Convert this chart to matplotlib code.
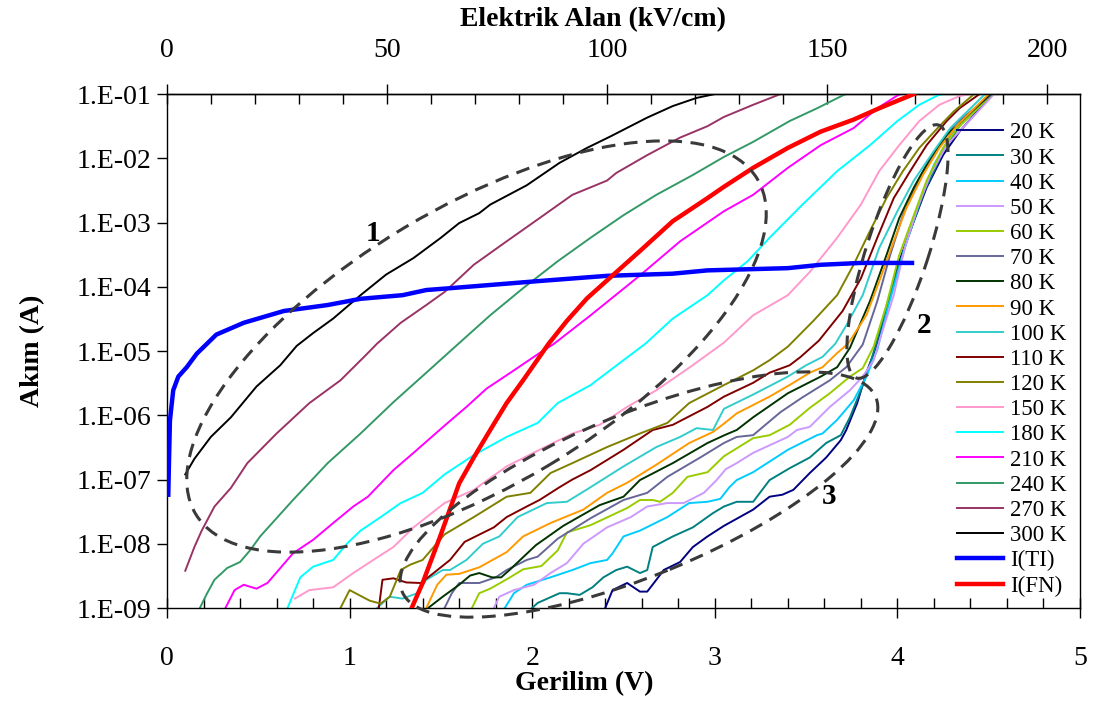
import math
import matplotlib
matplotlib.use("Agg")
import matplotlib.pyplot as plt
from matplotlib.patches import Ellipse
from matplotlib.transforms import Affine2D
from matplotlib.ticker import FixedLocator, FuncFormatter, NullLocator

plt.rcParams['font.family'] = ['Liberation Serif', 'DejaVu Serif']

# ---------------- measured I-V data (voltage in V, current in A) ----------------
v_20K = [2.40, 2.44, 2.52, 2.59, 2.63, 2.68, 2.72, 2.81, 2.88, 2.96, 3.05, 3.21, 3.30, 3.37, 3.43, 3.52, 3.61, 3.69, 3.72, 3.78, 3.83, 3.89, 3.94, 4.01, 4.09, 4.16, 4.25, 4.34, 4.52]
i_20K = [1.0e-9, 1.9e-9, 2.45e-9, 1.8e-9, 1.8e-9, 2.75e-9, 3.9e-9, 5.2e-9, 8.9e-9, 1.3e-8, 1.9e-8, 3.4e-8, 5.4e-8, 5.8e-8, 6.9e-8, 1.26e-7, 2.2e-7, 4.1e-7, 5.9e-7, 1.55e-6, 4.6e-6, 1.26e-5, 4.7e-5, 2.5e-4, 1.05e-3, 3.5e-3, 1.12e-2, 2.6e-2, 1.0e-1]

v_30K = [2.00, 2.03, 2.15, 2.19, 2.26, 2.33, 2.39, 2.46, 2.52, 2.59, 2.63, 2.66, 2.77, 2.88, 2.99, 3.05, 3.12, 3.21, 3.30, 3.41, 3.52, 3.61, 3.69, 3.74, 3.80, 3.84, 3.89, 3.95, 4.05, 4.15, 4.25, 4.35, 4.52]
i_30K = [1.0e-9, 1.2e-9, 1.7e-9, 1.7e-9, 1.6e-9, 2.1e-9, 3.0e-9, 3.9e-9, 4.4e-9, 3.5e-9, 3.9e-9, 8.9e-9, 1.3e-8, 1.8e-8, 3.0e-8, 3.8e-8, 4.5e-8, 4.5e-8, 9.8e-8, 1.5e-7, 2.2e-7, 3.7e-7, 4.9e-7, 9.3e-7, 2.45e-6, 5.0e-6, 1.5e-5, 6.3e-5, 5.0e-4, 3.2e-3, 1.26e-2, 3.5e-2, 1.0e-1]

v_40K = [1.85, 1.90, 1.97, 2.10, 2.22, 2.32, 2.41, 2.44, 2.50, 2.59, 2.74, 2.86, 2.96, 3.03, 3.08, 3.12, 3.21, 3.40, 3.56, 3.59, 3.67, 3.76, 3.83, 3.89, 3.95, 4.05, 4.13, 4.20, 4.30, 4.52]
i_40K = [1.0e-9, 1.7e-9, 2.3e-9, 3.0e-9, 3.9e-9, 5.0e-9, 5.6e-9, 7.1e-9, 1.3e-8, 1.6e-8, 2.6e-8, 4.3e-8, 4.5e-8, 5.0e-8, 7.6e-8, 9.8e-8, 1.3e-7, 2.9e-7, 4.9e-7, 5.2e-7, 8.5e-7, 1.7e-6, 4.0e-6, 1.05e-5, 5.0e-5, 5.0e-4, 2.5e-3, 7.9e-3, 2.5e-2, 1.0e-1]

v_50K = [1.79, 1.82, 1.90, 2.01, 2.10, 2.19, 2.28, 2.41, 2.54, 2.63, 2.74, 2.83, 2.94, 3.01, 3.06, 3.12, 3.21, 3.40, 3.45, 3.52, 3.63, 3.74, 3.81, 3.87, 3.90, 3.98, 4.04, 4.11, 4.18, 4.27, 4.53]
i_50K = [1.0e-9, 1.5e-9, 1.9e-9, 2.3e-9, 3.5e-9, 5.0e-9, 1.0e-8, 1.8e-8, 2.6e-8, 3.8e-8, 4.3e-8, 4.3e-8, 6.2e-8, 9.8e-8, 1.45e-7, 1.8e-7, 2.6e-7, 4.6e-7, 5.9e-7, 6.6e-7, 1.35e-6, 2.45e-6, 4.0e-6, 7.2e-6, 1.4e-5, 7.4e-5, 4.0e-4, 1.7e-3, 5.5e-3, 1.6e-2, 1.0e-1]

v_60K = [1.67, 1.71, 1.77, 1.87, 1.95, 2.05, 2.14, 2.19, 2.32, 2.52, 2.59, 2.66, 2.70, 2.77, 2.85, 2.96, 3.05, 3.21, 3.30, 3.41, 3.52, 3.63, 3.74, 3.81, 3.87, 3.94, 4.01, 4.09, 4.16, 4.25, 4.33, 4.52]
i_60K = [1.0e-9, 1.7e-9, 2.0e-9, 2.9e-9, 4.0e-9, 4.5e-9, 7.9e-9, 1.5e-8, 1.95e-8, 3.6e-8, 4.8e-8, 4.8e-8, 4.5e-8, 6.2e-8, 1.1e-7, 1.3e-7, 2.3e-7, 4.4e-7, 4.9e-7, 7.1e-7, 1.3e-6, 2.2e-6, 4.0e-6, 5.4e-6, 1.17e-5, 5.2e-5, 3.1e-4, 1.3e-3, 4.5e-3, 1.45e-2, 2.95e-2, 1.0e-1]

v_70K = [1.52, 1.56, 1.60, 1.71, 1.80, 1.86, 1.97, 2.03, 2.14, 2.32, 2.50, 2.63, 2.74, 2.92, 3.05, 3.12, 3.21, 3.36, 3.48, 3.63, 3.72, 3.81, 3.89, 3.96, 4.03, 4.12, 4.22, 4.31, 4.52]
i_70K = [1.0e-9, 1.7e-9, 2.45e-9, 2.45e-9, 3.0e-9, 3.9e-9, 5.6e-9, 6.3e-9, 1.2e-8, 2.5e-8, 4.8e-8, 6.2e-8, 1.1e-7, 2.2e-7, 3.7e-7, 4.6e-7, 4.9e-7, 1.12e-6, 1.9e-6, 3.5e-6, 5.6e-6, 1.26e-5, 6.0e-5, 3.1e-4, 1.3e-3, 4.9e-3, 1.45e-2, 3.3e-2, 1.0e-1]

v_80K = [1.43, 1.51, 1.60, 1.66, 1.71, 1.78, 1.83, 1.88, 2.02, 2.17, 2.37, 2.50, 2.59, 2.77, 2.96, 3.06, 3.12, 3.21, 3.40, 3.58, 3.67, 3.74, 3.85, 3.94, 4.01, 4.09, 4.18, 4.27, 4.51]
i_80K = [1.0e-9, 1.5e-9, 2.3e-9, 3.2e-9, 3.5e-9, 3.0e-9, 3.0e-9, 4.0e-9, 9.5e-9, 1.9e-8, 4.0e-8, 5.4e-8, 9.8e-8, 1.8e-7, 3.7e-7, 5.0e-7, 5.9e-7, 9.3e-7, 2.2e-6, 4.0e-6, 5.6e-6, 1.12e-5, 6.0e-5, 3.1e-4, 1.17e-3, 3.5e-3, 1.0e-2, 2.3e-2, 1.0e-1]

v_90K = [1.42, 1.48, 1.53, 1.60, 1.71, 1.86, 1.95, 2.10, 2.28, 2.41, 2.52, 2.68, 2.86, 2.99, 3.05, 3.12, 3.30, 3.43, 3.52, 3.59, 3.67, 3.73, 3.83, 3.90, 3.98, 4.05, 4.14, 4.23, 4.33, 4.50]
i_90K = [1.0e-9, 2.3e-9, 3.3e-9, 3.4e-9, 4.3e-9, 7.4e-9, 1.3e-8, 2.1e-8, 3.4e-8, 6.2e-8, 8.9e-8, 1.7e-7, 3.7e-7, 5.5e-7, 7.4e-7, 1.07e-6, 1.95e-6, 3.2e-6, 4.6e-6, 5.6e-6, 9.3e-6, 1.3e-5, 3.6e-5, 1.2e-4, 5.1e-4, 1.7e-3, 5.5e-3, 1.45e-2, 3.3e-2, 1.0e-1]

v_100K = [1.15, 1.22, 1.29, 1.37, 1.42, 1.51, 1.55, 1.64, 1.73, 1.82, 1.92, 2.08, 2.19, 2.32, 2.50, 2.68, 2.81, 2.90, 2.99, 3.05, 3.21, 3.40, 3.50, 3.59, 3.66, 3.72, 3.81, 3.90, 4.00, 4.09, 4.20, 4.29, 4.48]
i_100K = [1.0e-9, 1.5e-9, 1.4e-9, 1.7e-9, 2.75e-9, 3.9e-9, 3.9e-9, 5.6e-9, 1.0e-8, 1.3e-8, 2.6e-8, 4.3e-8, 4.5e-8, 7.6e-8, 1.6e-7, 3.2e-7, 4.6e-7, 6.3e-7, 5.9e-7, 1.26e-6, 2.1e-6, 4.0e-6, 6.0e-6, 8.1e-6, 1.3e-5, 2.5e-5, 7.4e-5, 4.0e-4, 1.5e-3, 4.5e-3, 1.3e-2, 2.95e-2, 1.0e-1]

v_110K = [1.16, 1.18, 1.24, 1.31, 1.39, 1.46, 1.55, 1.63, 1.79, 1.86, 1.97, 2.04, 2.15, 2.22, 2.32, 2.50, 2.66, 2.77, 2.96, 3.05, 3.21, 3.30, 3.41, 3.47, 3.57, 3.70, 3.80, 3.89, 3.98, 4.07, 4.16, 4.27, 4.34, 4.45]
i_110K = [1.0e-9, 2.75e-9, 2.9e-9, 2.5e-9, 2.45e-9, 3.5e-9, 5.6e-9, 1.07e-8, 1.8e-8, 2.6e-8, 3.8e-8, 4.8e-8, 7.6e-8, 1.0e-7, 1.4e-7, 2.9e-7, 5.9e-7, 7.1e-7, 1.35e-6, 1.95e-6, 3.2e-6, 4.6e-6, 6.0e-6, 8.1e-6, 1.45e-5, 4.2e-5, 1.35e-4, 5.8e-4, 2.4e-3, 6.3e-3, 1.6e-2, 3.8e-2, 6.0e-2, 1.0e-1]

v_120K = [0.95, 1.00, 1.11, 1.17, 1.22, 1.28, 1.33, 1.40, 1.52, 1.68, 1.86, 1.99, 2.10, 2.22, 2.41, 2.59, 2.74, 2.86, 3.05, 3.21, 3.30, 3.40, 3.54, 3.67, 3.76, 3.85, 3.94, 4.03, 4.12, 4.22, 4.31, 4.42]
i_120K = [1.0e-9, 1.9e-9, 1.3e-9, 1.17e-9, 1.5e-9, 3.9e-9, 4.7e-9, 5.6e-9, 1.4e-8, 2.6e-8, 5.4e-8, 6.2e-8, 1.26e-7, 1.8e-7, 3.2e-7, 5.2e-7, 7.6e-7, 1.55e-6, 2.95e-6, 5.0e-6, 7.2e-6, 1.17e-5, 2.95e-5, 7.4e-5, 2.2e-4, 7.4e-4, 2.4e-3, 6.3e-3, 1.45e-2, 2.95e-2, 5.4e-2, 1.0e-1]

v_150K = [0.70, 0.78, 0.91, 1.02, 1.13, 1.24, 1.35, 1.52, 1.68, 1.86, 2.04, 2.22, 2.37, 2.52, 2.68, 2.86, 3.05, 3.21, 3.40, 3.52, 3.67, 3.80, 3.90, 4.01, 4.12, 4.23, 4.34, 4.40]
i_150K = [1.4e-9, 1.9e-9, 2.1e-9, 3.5e-9, 5.6e-9, 8.9e-9, 1.8e-8, 4.3e-8, 6.9e-8, 1.6e-7, 2.9e-7, 5.2e-7, 7.1e-7, 1.35e-6, 2.45e-6, 5.5e-6, 1.35e-5, 3.6e-5, 7.4e-5, 1.7e-4, 5.8e-4, 1.9e-3, 6.3e-3, 1.6e-2, 3.8e-2, 6.8e-2, 9.3e-2, 1.0e-1]

v_180K = [0.66, 0.73, 0.80, 0.91, 0.985, 1.06, 1.17, 1.28, 1.40, 1.52, 1.68, 1.86, 2.03, 2.14, 2.32, 2.50, 2.62, 2.77, 2.96, 3.05, 3.18, 3.30, 3.48, 3.67, 3.85, 4.00, 4.12, 4.22, 4.25]
i_180K = [1.0e-9, 3.0e-9, 4.4e-9, 5.6e-9, 1.0e-8, 1.6e-8, 2.6e-8, 4.3e-8, 6.2e-8, 1.2e-7, 2.4e-7, 4.6e-7, 7.6e-7, 1.55e-6, 2.95e-6, 7.2e-6, 1.3e-5, 3.2e-5, 7.4e-5, 1.26e-4, 2.5e-4, 5.8e-4, 1.9e-3, 6.3e-3, 1.6e-2, 3.8e-2, 6.8e-2, 9.5e-2, 1.0e-1]

v_210K = [0.32, 0.37, 0.42, 0.49, 0.55, 0.69, 0.80, 0.91, 1.02, 1.10, 1.24, 1.35, 1.52, 1.64, 1.75, 1.90, 2.04, 2.12, 2.32, 2.59, 2.81, 3.05, 3.21, 3.40, 3.58, 3.76, 3.89, 4.00, 4.02]
i_210K = [1.0e-9, 1.9e-9, 2.3e-9, 2.0e-9, 2.45e-9, 7.1e-9, 1.15e-8, 2.1e-8, 3.8e-8, 5.4e-8, 1.4e-7, 2.6e-7, 6.9e-7, 1.35e-6, 2.6e-6, 5.0e-6, 9.3e-6, 1.3e-5, 3.6e-5, 1.5e-4, 5.1e-4, 1.5e-3, 2.7e-3, 7.1e-3, 1.6e-2, 2.95e-2, 6.0e-2, 9.5e-2, 1.0e-1]

v_240K = [0.18, 0.22, 0.26, 0.33, 0.40, 0.455, 0.51, 0.69, 0.88, 1.06, 1.24, 1.42, 1.56, 1.77, 1.95, 2.14, 2.32, 2.50, 2.68, 2.88, 3.05, 3.21, 3.41, 3.56, 3.70, 3.72]
i_240K = [1.0e-9, 1.7e-9, 2.75e-9, 4.2e-9, 5.2e-9, 7.9e-9, 1.3e-8, 4.8e-8, 1.8e-7, 5.2e-7, 1.6e-6, 4.6e-6, 1.05e-5, 3.6e-5, 9.5e-5, 2.5e-4, 5.8e-4, 1.3e-3, 2.7e-3, 5.5e-3, 1.05e-2, 1.8e-2, 3.8e-2, 6.0e-2, 9.5e-2, 1.0e-1]

v_270K = [0.10, 0.15, 0.19, 0.26, 0.35, 0.44, 0.60, 0.78, 0.95, 1.09, 1.15, 1.28, 1.42, 1.52, 1.68, 1.86, 2.04, 2.22, 2.41, 2.46, 2.63, 2.81, 2.96, 3.05, 3.21, 3.34, 3.36]
i_270K = [3.8e-9, 8.9e-9, 1.6e-8, 3.8e-8, 7.4e-8, 1.8e-7, 5.2e-7, 1.55e-6, 3.5e-6, 8.7e-6, 1.3e-5, 2.75e-5, 5.2e-5, 8.3e-5, 2.2e-4, 5.1e-4, 1.17e-3, 2.7e-3, 4.5e-3, 5.9e-3, 1.12e-2, 2.1e-2, 3.16e-2, 4.4e-2, 6.8e-2, 9.5e-2, 1.0e-1]

v_300K = [0.10, 0.15, 0.24, 0.35, 0.49, 0.62, 0.71, 0.80, 0.91, 1.06, 1.20, 1.35, 1.50, 1.60, 1.71, 1.77, 1.97, 2.15, 2.30, 2.43, 2.63, 2.77, 2.90, 3.00]
i_300K = [1.2e-7, 2.1e-7, 4.6e-7, 9.3e-7, 2.8e-6, 6.0e-6, 1.2e-5, 1.9e-5, 3.2e-5, 7.4e-5, 1.55e-4, 2.8e-4, 5.8e-4, 9.8e-4, 1.4e-3, 1.9e-3, 3.8e-3, 8.5e-3, 1.45e-2, 2.2e-2, 4.3e-2, 6.5e-2, 8.7e-2, 1.0e-1]

# thermionic-emission and Fowler-Nordheim fits
v_TI = [0.007, 0.011, 0.016, 0.034, 0.062, 0.108, 0.163, 0.27, 0.42, 0.64, 0.88, 1.06, 1.29, 1.42, 1.55, 2.04, 2.41, 2.77, 2.96, 3.40, 3.58, 3.80, 4.08]
i_TI = [5.8e-8, 2.0e-7, 8.3e-7, 2.45e-6, 4.0e-6, 5.6e-6, 9.1e-6, 1.8e-5, 2.75e-5, 4.2e-5, 5.2e-5, 6.5e-5, 7.4e-5, 8.9e-5, 9.5e-5, 1.23e-4, 1.48e-4, 1.6e-4, 1.8e-4, 1.95e-4, 2.2e-4, 2.35e-4, 2.35e-4]

v_FN = [1.34, 1.40, 1.50, 1.60, 1.68, 1.77, 1.86, 1.95, 2.09, 2.19, 2.30, 2.44, 2.59, 2.77, 2.96, 3.05, 3.21, 3.40, 3.58, 3.76, 3.90, 4.09]
i_FN = [1.0e-9, 2.45e-9, 1.4e-8, 8.7e-8, 2.2e-7, 5.9e-7, 1.55e-6, 3.5e-6, 1.3e-5, 2.95e-5, 6.6e-5, 1.5e-4, 3.6e-4, 1.05e-3, 2.4e-3, 3.6e-3, 7.1e-3, 1.45e-2, 2.6e-2, 4.0e-2, 6.0e-2, 1.0e-1]

temperatures = ["20 K", "30 K", "40 K", "50 K", "60 K", "70 K", "80 K", "90 K", "100 K",
                "110 K", "120 K", "150 K", "180 K", "210 K", "240 K", "270 K", "300 K"]
temp_voltages = [v_20K, v_30K, v_40K, v_50K, v_60K, v_70K, v_80K, v_90K, v_100K,
                 v_110K, v_120K, v_150K, v_180K, v_210K, v_240K, v_270K, v_300K]
temp_currents = [i_20K, i_30K, i_40K, i_50K, i_60K, i_70K, i_80K, i_90K, i_100K,
                 i_110K, i_120K, i_150K, i_180K, i_210K, i_240K, i_270K, i_300K]
temp_colors = ["#000080", "#008080", "#00CCFF", "#CC99FF", "#99CC00", "#666699", "#003300",
               "#FF9900", "#33CCCC", "#800000", "#808000", "#FF99CC", "#00FFFF", "#FF00FF",
               "#339966", "#993366", "#000000"]

y_tick_exponents = [-9, -8, -7, -6, -5, -4, -3, -2, -1]
volt_ticks = [0, 1, 2, 3, 4, 5]
volt_minor_ticks = [0.2 * k for k in range(26)]
field_ticks = [0, 50, 100, 150, 200]
field_minor_ticks = [10 * k for k in range(21)]
field_per_volt = 41.5   # kV/cm per V across the film

# ---------------- figure ----------------
fig = plt.figure(figsize=(10.98, 7.06), dpi=100)
ax = fig.add_axes([0.1521, 0.1388, 0.8315, 0.7280])

for lab, vv, ii, col in zip(temperatures, temp_voltages, temp_currents, temp_colors):
    ax.plot(vv, ii, color=col, lw=1.4, label=lab, zorder=2)
ax.plot(v_TI, i_TI, color="#0000FF", lw=3.2, label="I(TI)", zorder=3)
ax.plot(v_FN, i_FN, color="#FF0000", lw=3.2, label="I(FN)", zorder=3)

ax.set_yscale("log")
ax.set_xlim(0, 5)
ax.set_ylim(1e-9, 1e-1)

# y axis: decades only, labels like 1.E-05
ax.yaxis.set_major_locator(FixedLocator([10.0 ** e for e in y_tick_exponents]))
ax.yaxis.set_minor_locator(NullLocator())
ax.yaxis.set_major_formatter(FuncFormatter(lambda v, p: "1.E-%02d" % round(-math.log10(v))))
ax.tick_params(axis="y", which="major", direction="out", length=7, width=1, labelsize=20, pad=4,
               right=False)

# bottom x axis
ax.xaxis.set_major_locator(FixedLocator(volt_ticks))
ax.xaxis.set_minor_locator(FixedLocator(volt_minor_ticks))
ax.tick_params(axis="x", which="major", direction="inout", length=14, width=1, labelsize=20, pad=20)
ax.tick_params(axis="x", which="minor", direction="in", length=7, width=1)

for sp in ax.spines.values():
    sp.set_linewidth(1.0)

# top axis: electric field
sec = ax.secondary_xaxis("top", functions=(lambda v: v * field_per_volt, lambda e: e / field_per_volt))
sec.xaxis.set_major_locator(FixedLocator(field_ticks))
sec.xaxis.set_minor_locator(FixedLocator(field_minor_ticks))
sec.tick_params(axis="x", which="major", direction="inout", length=14, width=1, labelsize=20, pad=15)
sec.tick_params(axis="x", which="minor", direction="in", length=7, width=1)
sec.spines["top"].set_linewidth(1.0)

# axis titles
ax.set_xlabel("Gerilim (V)", fontsize=20, fontweight="bold")
ax.xaxis.set_label_coords(0.457, -0.122)
ax.set_ylabel("Akım (A)", fontsize=20, fontweight="bold")
ax.yaxis.set_label_coords(-0.134, 0.50)
ax.text(0.4666, 1.1200, "Elektrik Alan (kV/cm)", transform=ax.transAxes, ha="center", va="bottom",
        fontsize=20, fontweight="bold")

# dashed regions drawn in axes-pixel units (913 x 514 px plot box)
box = Affine2D().scale(1 / 913.0, 1 / 514.0) + ax.transAxes
regions = [((309.5, 261.5), 327, 139, 30.8),
           ((730.5, 356.5), 133, 31, 72.0),
           ((472.0, 113.5), 256, 81, 22.3)]
for (c, a, b, ang) in regions:
    e = Ellipse(c, 2 * a, 2 * b, angle=ang, transform=box, fill=False, edgecolor="#3a3a3a",
                lw=2.2, linestyle=(0, (4.5, 2.8)), clip_on=False, zorder=5)
    ax.add_patch(e)

for txt, x, y in [("1", 0.2256, 0.7296), ("2", 0.829, 0.5506), ("3", 0.725, 0.2179)]:
    ax.text(x, y, txt, transform=ax.transAxes, ha="center", va="center", fontsize=21,
            fontweight="bold", zorder=6)

ax.legend(loc="upper left", bbox_to_anchor=(0.8653, 0.945), frameon=False, fontsize=16.5,
          handlelength=2.0, handletextpad=0.3, labelspacing=0.18, borderaxespad=0, borderpad=0)

fig.savefig("out.png", dpi=100)
